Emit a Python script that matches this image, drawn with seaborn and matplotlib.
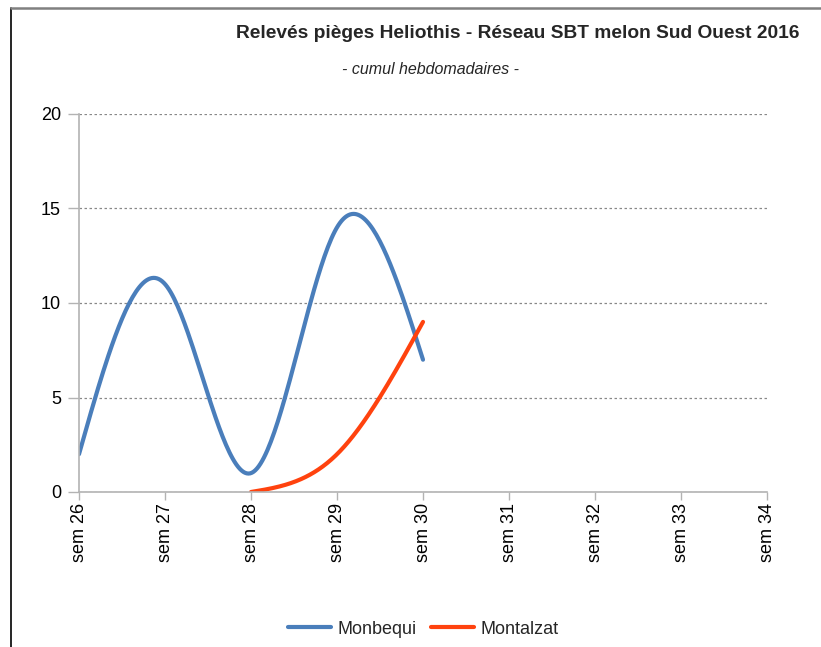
import numpy as np
import pandas as pd
import matplotlib
matplotlib.use("Agg")
import matplotlib.pyplot as plt
import seaborn as sns
from matplotlib.lines import Line2D

weeks = [26, 27, 28, 29, 30]
week_labels = ["sem 26", "sem 27", "sem 28", "sem 29", "sem 30", "sem 31", "sem 32", "sem 33", "sem 34"]
monbequi = [2, 11, 1, 14, 7]
montalzat_weeks = [28, 29, 30]
montalzat = [0, 2, 9]

title = "Relevés pièges Heliothis - Réseau SBT melon Sud Ouest 2016"
subtitle = "- cumul hebdomadaires -"
colors = {"Monbequi": "#4a7ebb", "Montalzat": "#ff420e"}


def natural_spline(x, y, n=200):
    x = np.asarray(x, float); y = np.asarray(y, float)
    k = len(x)
    h = np.diff(x)
    A = np.zeros((k, k)); b = np.zeros(k)
    A[0, 0] = 1; A[-1, -1] = 1
    for i in range(1, k - 1):
        A[i, i - 1] = h[i - 1]; A[i, i] = 2 * (h[i - 1] + h[i]); A[i, i + 1] = h[i]
        b[i] = 6 * ((y[i + 1] - y[i]) / h[i] - (y[i] - y[i - 1]) / h[i - 1])
    M = np.linalg.solve(A, b)
    xs = np.linspace(x[0], x[-1], n)
    ys = np.empty_like(xs)
    for j, t in enumerate(xs):
        i = min(np.searchsorted(x, t, side="right") - 1, k - 2)
        hi = h[i]; a = x[i + 1] - t; c = t - x[i]
        ys[j] = (M[i] * a**3 + M[i + 1] * c**3) / (6 * hi) + (y[i] / hi - M[i] * hi / 6) * a + (y[i + 1] / hi - M[i + 1] * hi / 6) * c
    return xs, ys


sns.set_theme(style="white")
plt.rcParams['font.family'] = ['Liberation Sans', 'DejaVu Sans']

fig = plt.figure(figsize=(8.21, 6.47), dpi=100)
ax = fig.add_axes([79 / 821, 1 - 492 / 647, (767 - 79) / 821, (492 - 114) / 647])

frames = []
for name, xw, yv in [("Monbequi", weeks, monbequi), ("Montalzat", montalzat_weeks, montalzat)]:
    xs, ys = natural_spline(xw, yv)
    frames.append(pd.DataFrame({"week": xs, "value": ys, "site": name}))
df = pd.concat(frames, ignore_index=True)

sns.lineplot(data=df, x="week", y="value", hue="site", palette=colors, linewidth=3,
             sort=False, legend=False, ax=ax, estimator=None)

ax.set_xlim(26, 34)
ax.set_ylim(0, 20)
ax.set_yticks([0, 5, 10, 15, 20])
ax.set_xticks(range(26, 35))
ax.set_xticklabels(week_labels, rotation=90, fontsize=13)
ax.tick_params(axis="y", labelsize=13, length=8, width=1, color="#b3b3b3", pad=5, left=True)
ax.tick_params(axis="x", length=6, width=1, color="#b3b3b3", pad=2, bottom=True, direction="out")
ax.yaxis.grid(True, linestyle=(0, (2, 2)), color="#888888", linewidth=0.9)
ax.xaxis.grid(False)
for s in ["top", "right"]:
    ax.spines[s].set_visible(False)
for s in ["left", "bottom"]:
    ax.spines[s].set_color("#b3b3b3")
    ax.spines[s].set_linewidth(1.2)
ax.set_xlabel("")
ax.set_ylabel("")
for lab in ax.get_xticklabels() + ax.get_yticklabels():
    lab.set_color("#000000")

fig.text(518 / 821, 1 - 33 / 647, title, ha="center", va="center", fontsize=13.8, fontweight="bold")
fig.text(430 / 821, 1 - 69 / 647, subtitle, ha="center", va="center", fontsize=11.5, style="italic")

handles = [Line2D([0], [0], color=colors[k], lw=3) for k in ["Monbequi", "Montalzat"]]
fig.legend(handles, ["Monbequi", "Montalzat"], loc="center", bbox_to_anchor=(423 / 821, 1 - 629 / 647),
           ncol=2, frameon=False, fontsize=13, handlelength=2.4, columnspacing=0.8, handletextpad=0.35)

fig.add_artist(Line2D([11 / 821, 11 / 821], [0, 1 - 8 / 647], transform=fig.transFigure, color="black", lw=1.2))
fig.add_artist(Line2D([11 / 821, 1], [1 - 8 / 647, 1 - 8 / 647], transform=fig.transFigure, color="#808080", lw=1.8))

fig.savefig("out.png", dpi=100)
